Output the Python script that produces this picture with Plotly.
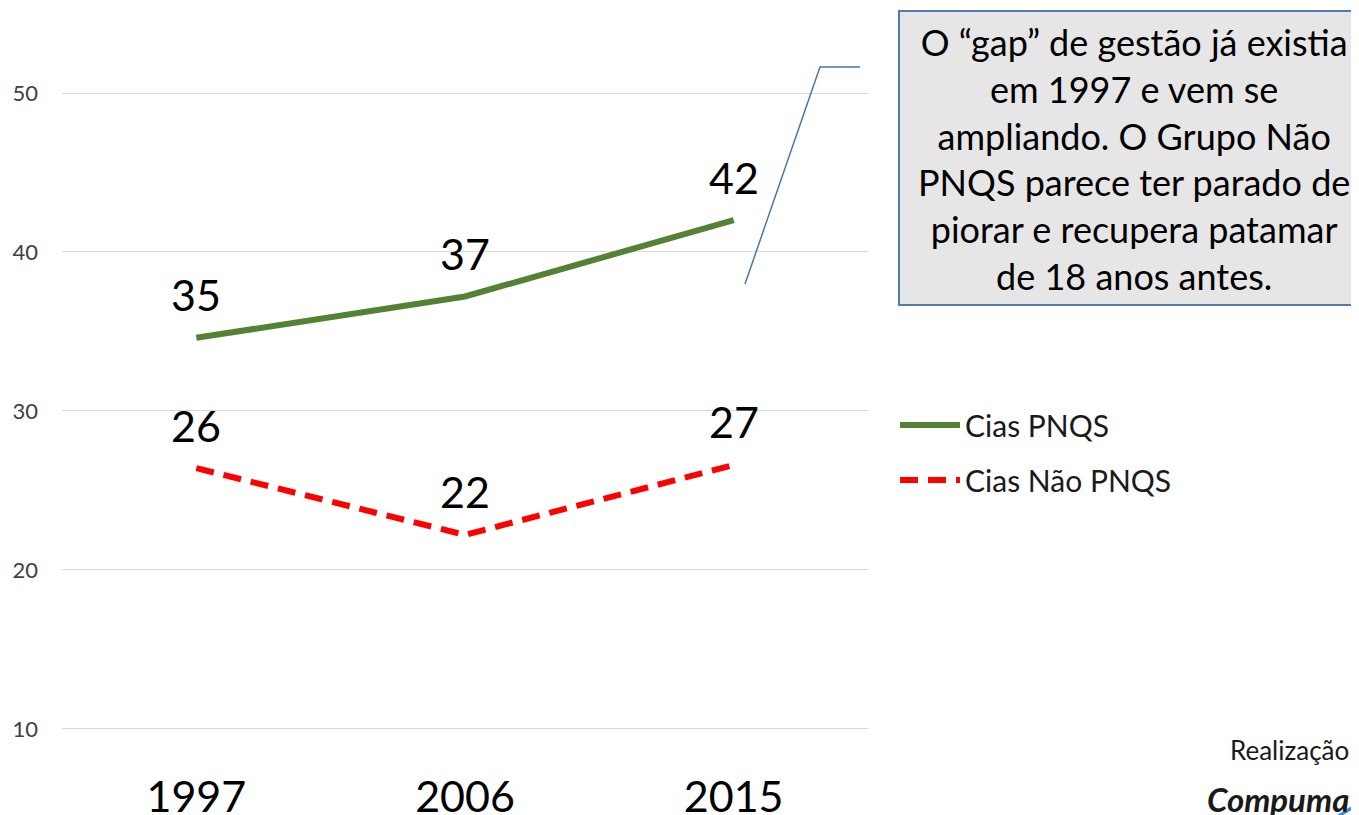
import plotly.graph_objects as go

years = ["1997", "2006", "2015"]
pnqs = [34.6, 37.2, 42.0]
nao_pnqs = [26.4, 22.2, 26.6]
series_names = ["Cias PNQS", "Cias Não PNQS"]
y_ticks = [10, 20, 30, 40, 50]
callout_lines = [
    "O “gap” de gestão já existia",
    "em 1997 e vem se",
    "ampliando. O Grupo Não",
    "PNQS parece ter parado de",
    "piorar e recupera patamar",
    "de 18 anos antes.",
]

FONT = "Lato"
GREEN = "#548235"
RED = "#FF0000"

# page body has an 8px margin: figure sized/positioned to compensate
OFF = 8
W, H = 1359 - OFF, 815 - OFF
ML, MR, MT, MB = 54, 491, 0, 83
PW, PH = W - ML - MR, H - MT - MB


def px(x):
    return (x - OFF - ML) / PW


def py(y):
    return 1 - (y - OFF - MT) / PH


fig = go.Figure()
fig.add_trace(go.Scatter(
    x=years, y=pnqs, name=series_names[0], mode="lines",
    line=dict(color=GREEN, width=6), legendgroup="a",
))
fig.add_trace(go.Scatter(
    x=years, y=nao_pnqs, name=series_names[1], mode="lines",
    line=dict(color=RED, width=6, dash="18px,10px"), legendgroup="b",
))

annotations = []
for series in (pnqs, nao_pnqs):
    for i, v in enumerate(series):
        annotations.append(dict(
            x=i, y=v, xref="x", yref="y", text=str(int(round(v))),
            showarrow=False, yshift=43,
            font=dict(family=FONT, size=43, color="#000000"),
        ))

# callout text box
annotations.append(dict(
    x=px(1134), y=py(159), xref="paper", yref="paper",
    text="<br>".join(callout_lines), showarrow=False, align="center",
    font=dict(family=FONT, size=36, color="#000000"),
    xanchor="center", yanchor="middle",
))
annotations.append(dict(
    x=px(1351), y=py(750), xref="paper", yref="paper", text="Realização",
    showarrow=False, xanchor="right", yanchor="middle",
    font=dict(family=FONT, size=26, color="#1a1a1a"),
))
annotations.append(dict(
    x=px(1351), y=py(799), xref="paper", yref="paper", text="<b><i>Compuma</i></b>",
    showarrow=False, xanchor="right", yanchor="middle",
    font=dict(family=FONT, size=33, color="#1a1a1a"),
))

shapes = [
    dict(type="rect", xref="paper", yref="paper",
         x0=px(899), x1=px(1375), y0=py(305), y1=py(11),
         fillcolor="#E6E6E6", line=dict(color="#4F7BB0", width=2), layer="below"),
    dict(type="path", xref="paper", yref="paper",
         path=f"M {px(745)},{py(284)} L {px(820)},{py(67)} L {px(860)},{py(67)}",
         line=dict(color="#4A76A8", width=1.5)),
    # fragment of the logo swoosh at the bottom-right corner
    dict(type="path", xref="paper", yref="paper",
         path=f"M {px(1338)},{py(816)} Q {px(1350)},{py(810)} {px(1362)},{py(800)}",
         line=dict(color="#3C8DD0", width=3)),
]

fig.update_layout(
    width=W, height=H,
    margin=dict(l=ML, r=MR, t=MT, b=MB, autoexpand=False),
    plot_bgcolor="white", paper_bgcolor="white",
    showlegend=True,
    legend=dict(
        x=px(895), y=py(399), xanchor="left", yanchor="top",
        font=dict(family=FONT, size=30, color="#1a1a1a"),
        tracegroupgap=13, traceorder="grouped", itemwidth=60,
        bgcolor="rgba(0,0,0,0)",
    ),
    annotations=annotations,
    shapes=shapes,
    xaxis=dict(
        type="category", range=[-0.5, 2.5], showgrid=False, showline=False,
        zeroline=False, ticks="", automargin=False,
        tickfont=dict(family=FONT, size=43, color="#000000"),
        ticklabelstandoff=36,
    ),
    yaxis=dict(
        range=[9.8, 55.35], tickvals=y_ticks, showgrid=True, gridcolor="#D9D9D9",
        gridwidth=1, zeroline=False, showline=False, ticks="", automargin=False,
        tickfont=dict(family=FONT, size=22, color="#404040"),
        ticklabelstandoff=23,
    ),
)

fig.write_html("out.html")
